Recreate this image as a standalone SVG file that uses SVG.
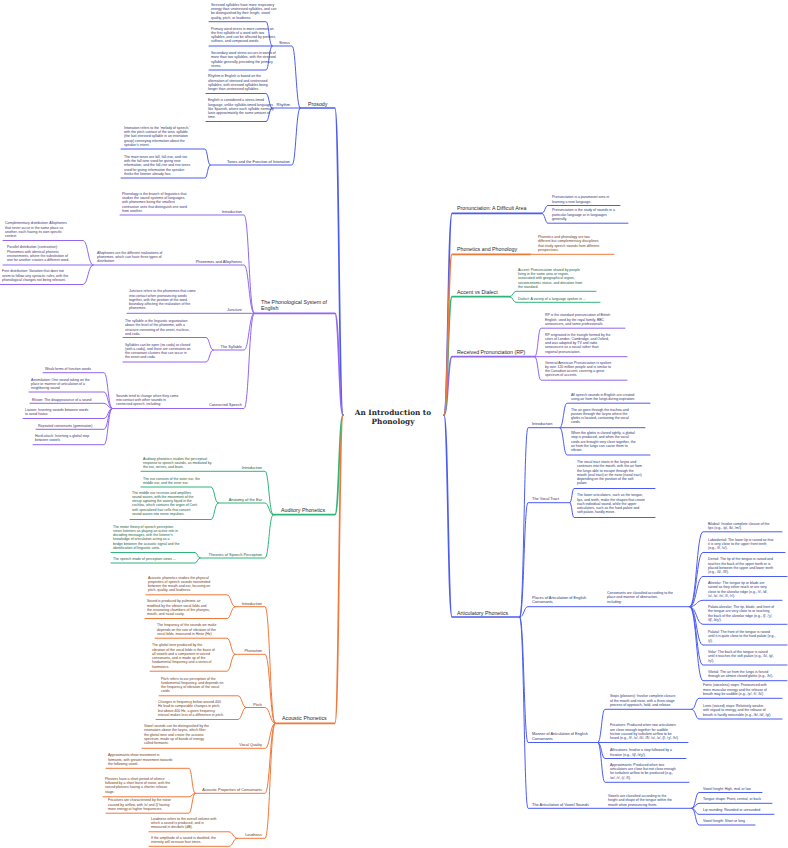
<svg xmlns="http://www.w3.org/2000/svg" width="788" height="848" viewBox="0 0 788 848">
<style>
text{font-family:"Liberation Sans","DejaVu Sans",Arial,sans-serif}
.t{font-size:3.5px}
.s{font-size:3.9px}
.m{font-size:5.3px;fill:#2a2a2a}
.title{font-family:"DejaVu Serif","Liberation Serif",serif;font-size:7.3px;font-weight:bold;fill:#2a2a2a}
.cb{fill:#2e3470}.cp{fill:#45306e}.cg{fill:#245a40}.co{fill:#6e3a20}
path{fill:none;stroke-linecap:round}
.B{stroke:#4d5cf0}.P{stroke:#9366f0}.G{stroke:#2fb57a}.O{stroke:#f0783a}
.w1{stroke-width:1.7}.w2{stroke-width:1}
</style>
<rect width="788" height="848" fill="#ffffff"/>
<g id="connectors">
<g class="B w1"><path d="M343,415C339,415 339,108 335,108H300"/><path d="M444,415C448,415 448,213.3 452,213.3H542"/><path d="M444,415C448,415 448,617 452,617H520"/></g>
<g class="P w1"><path d="M343,415C339,415 339,313.3 335,313.3H254"/><path d="M444,415C448,415 448,356.7 452,356.7H535"/></g>
<g class="G w1"><path d="M343,415C339,415 339,514.7 335,514.7H273"/><path d="M444,415C448,415 448,296.7 452,296.7H510"/></g>
<g class="O w1"><path d="M343,415C339,415 339,723.3 335,723.3H275"/><path d="M444,415C448,415 448,254.3 452,254.3H530"/></g>
<g class="B w2">
<path d="M300,108C296,108 296,46 292,46H272"/><path d="M300,108H272"/><path d="M300,108C296,108 296,165 292,165H210"/>
<path d="M272,46C269,46 269,21.7 266,21.7H209"/><path d="M272,46H209"/><path d="M272,46C269,46 269,70 266,70H209"/>
<path d="M272,108C269,108 269,93.5 266,93.5H206"/><path d="M272,108C269,108 269,121.5 266,121.5H206"/>
<path d="M210,165C207.5,165 207.5,149 205,149H121"/><path d="M210,165C207.5,165 207.5,178 205,178H121"/>
<path d="M542,213.3C545,213.3 545,205.5 548,205.5H620"/><path d="M542,213.3C545,213.3 545,223.2 548,223.2H628"/>
<path d="M520,617C524,617 524,427.7 528,427.7H560"/><path d="M520,617C524,617 524,502.7 528,502.7H570"/><path d="M520,617C524,617 524,606.7 528,606.7H690"/><path d="M520,617C524,617 524,742.5 528,742.5H598"/><path d="M520,617C524,617 524,808.3 528,808.3H692"/>
<path d="M560,427.7C563.5,427.7 563.5,403.2 567,403.2H650"/><path d="M560,427.7H645"/><path d="M560,427.7C563.5,427.7 563.5,455 567,455H650"/>
<path d="M570,502.7C572,502.7 572,488.5 574,488.5H655"/><path d="M570,502.7C572,502.7 572,517.5 574,517.5H655"/>
<path d="M690,606.7C696.5,606.7 696.5,531.8 703,531.8H782"/><path d="M690,606.7C696.5,606.7 696.5,552.5 703,552.5H785"/><path d="M690,606.7C696.5,606.7 696.5,576.5 703,576.5H787"/><path d="M690,606.7C696.5,606.7 696.5,600.3 703,600.3H782"/><path d="M690,606.7C696.5,606.7 696.5,624.3 703,624.3H787"/><path d="M690,606.7C696.5,606.7 696.5,645 703,645H787"/><path d="M690,606.7C696.5,606.7 696.5,665 703,665H787"/><path d="M690,606.7C696.5,606.7 696.5,680.7 703,680.7H787"/>
<path d="M598,742.5C601.5,742.5 601.5,709.3 605,709.3H692"/><path d="M598,742.5H688"/><path d="M598,742.5C601.5,742.5 601.5,758.5 605,758.5H686"/><path d="M598,742.5C601.5,742.5 601.5,782.3 605,782.3H689"/>
<path d="M692,709.3C695.5,709.3 695.5,698.3 699,698.3H782"/><path d="M692,709.3C695.5,709.3 695.5,719 699,719H782"/>
<path d="M692,808.3C695.5,808.3 695.5,792.5 699,792.5H762"/><path d="M692,808.3C695.5,808.3 695.5,803.3 699,803.3H772"/><path d="M692,808.3C695.5,808.3 695.5,814.3 699,814.3H774"/><path d="M692,808.3C695.5,808.3 695.5,825 699,825H755"/>
</g>
<g class="P w2">
<path d="M254,313.3C249,313.3 249,215 244,215H120"/><path d="M254,313.3C249,313.3 249,265 244,265H93"/><path d="M254,313.3H127"/><path d="M254,313.3C249,313.3 249,350 244,350H213"/><path d="M254,313.3C249,313.3 249,408.5 244,408.5H112"/>
<path d="M93,265C88,265 88,240.5 83,240.5H3"/><path d="M93,265H3"/><path d="M93,265C88,265 88,284.5 83,284.5H0"/>
<path d="M213,350C209.5,350 209.5,337.5 206,337.5H123"/><path d="M213,350C209.5,350 209.5,362 206,362H123"/>
<path d="M112,408.5C108,408.5 108,372.7 104,372.7H43"/><path d="M112,408.5C108,408.5 108,392 104,392H29"/><path d="M112,408.5C108,408.5 108,403.3 104,403.3H30"/><path d="M112,408.5C108,408.5 108,418.5 104,418.5H23"/><path d="M112,408.5C108,408.5 108,429.3 104,429.3H36"/><path d="M112,408.5C108,408.5 108,444.7 104,444.7H33"/>
<path d="M535,356.7C538,356.7 538,328.2 541,328.2H625"/><path d="M535,356.7H627"/><path d="M535,356.7C538,356.7 538,380.2 541,380.2H627"/>
</g>
<g class="G w2">
<path d="M273,514.7C269,514.7 269,471.3 265,471.3H141"/><path d="M273,514.7C269,514.7 269,503 265,503H218"/><path d="M273,514.7C269,514.7 269,558 265,558H200"/>
<path d="M218,503C214.5,503 214.5,487 211,487H141"/><path d="M218,503C214.5,503 214.5,519.5 211,519.5H130"/>
<path d="M200,558C197.5,558 197.5,552.5 195,552.5H111"/><path d="M200,558C197.5,558 197.5,563 195,563H111"/>
<path d="M510,296.7C513,296.7 513,291.3 516,291.3H596"/><path d="M510,296.7C513,296.7 513,302.3 516,302.3H600"/>
</g>
<g class="O w2">
<path d="M275,723.3C270,723.3 270,606.7 265,606.7H235"/><path d="M275,723.3C270,723.3 270,654.3 265,654.3H235"/><path d="M275,723.3C270,723.3 270,707.5 265,707.5H246"/><path d="M275,723.3C270,723.3 270,748.3 265,748.3H142"/><path d="M275,723.3C270,723.3 270,793.3 265,793.3H195"/><path d="M275,723.3C270,723.3 270,838.3 265,838.3H237"/>
<path d="M235,606.7C231,606.7 231,594.8 227,594.8H146"/><path d="M235,606.7C231,606.7 231,618.5 227,618.5H145"/>
<path d="M235,654.3C231,654.3 231,638.2 227,638.2H155"/><path d="M235,654.3C231,654.3 231,671.2 227,671.2H150"/>
<path d="M246,707.5C242,707.5 242,695.8 238,695.8H159"/><path d="M246,707.5C242,707.5 242,719.5 238,719.5H156"/>
<path d="M195,793.3C192,793.3 192,768.3 189,768.3H106"/><path d="M195,793.3C192,793.3 192,796.8 189,796.8H103"/><path d="M195,793.3C192,793.3 192,813.2 189,813.2H106"/>
<path d="M237,838.3C233,838.3 233,831.8 229,831.8H149"/><path d="M237,838.3C233,838.3 233,846.3 229,846.3H149"/>
<path d="M530,254.3H614"/>
</g>
</g>

<g id="root"><text class="title" x="393" y="414.8" text-anchor="middle">An Introduction to</text><text class="title" x="393" y="424.3" text-anchor="middle">Phonology</text></g>

<!-- Prosody -->
<g id="prosody"><text class="m" x="308" y="105.8">Prosody</text></g>
<g id="stress"><text class="s cb" x="290" y="44.3" text-anchor="end">Stress</text></g>
<g id="stress-1"><text class="t cb" x="211" y="5.6"><tspan x="211">Stressed syllables have more respiratory</tspan><tspan x="211" dy="4.3">energy than unstressed syllables, and can</tspan><tspan x="211" dy="4.3">be distinguished by their length, vowel</tspan><tspan x="211" dy="4.3">quality, pitch, or loudness.</tspan></text></g>
<g id="stress-2"><text class="t cb" x="211" y="29.5"><tspan x="211">Primary word stress is more common on</tspan><tspan x="211" dy="4.3">the first syllable of a word with two</tspan><tspan x="211" dy="4.3">syllables, and can be affected by prefixes,</tspan><tspan x="211" dy="4.3">suffixes, and compound words.</tspan></text></g>
<g id="stress-3"><text class="t cb" x="211" y="53.9"><tspan x="211">Secondary word stress occurs in words of</tspan><tspan x="211" dy="4.3">more than two syllables, with the stressed</tspan><tspan x="211" dy="4.3">syllable generally preceding the primary</tspan><tspan x="211" dy="4.3">stress.</tspan></text></g>
<g id="rhythm"><text class="s cb" x="290" y="106.1" text-anchor="end">Rhythm</text></g>
<g id="rhythm-1"><text class="t cb" x="208" y="77.2"><tspan x="208">Rhythm in English is based on the</tspan><tspan x="208" dy="4.3">alternation of stressed and unstressed</tspan><tspan x="208" dy="4.3">syllables, with stressed syllables being</tspan><tspan x="208" dy="4.3">longer than unstressed syllables.</tspan></text></g>
<g id="rhythm-2"><text class="t cb" x="208" y="101.2"><tspan x="208">English is considered a stress-timed</tspan><tspan x="208" dy="4.3">language, unlike syllable-timed languages</tspan><tspan x="208" dy="4.3">like Spanish, where each syllable normally</tspan><tspan x="208" dy="4.3">lasts approximately the same amount of</tspan><tspan x="208" dy="4.3">time.</tspan></text></g>
<g id="tones"><text class="s cb" x="290" y="163.3" text-anchor="end">Tones and the Function of Intonation</text></g>
<g id="tones-1"><text class="t cb" x="124" y="128.7"><tspan x="124">Intonation refers to the 'melody of speech,'</tspan><tspan x="124" dy="4.3">with the pitch contour of the tonic syllable</tspan><tspan x="124" dy="4.3">(the last stressed syllable in an intonation</tspan><tspan x="124" dy="4.3">group) conveying information about the</tspan><tspan x="124" dy="4.3">speaker's intent.</tspan></text></g>
<g id="tones-2"><text class="t cb" x="124" y="157.7"><tspan x="124">The main tones are fall, fall-rise, and rise</tspan><tspan x="124" dy="4.3">with the fall tone used for giving new</tspan><tspan x="124" dy="4.3">information, and the fall-rise and rise tones</tspan><tspan x="124" dy="4.3">used for giving information the speaker</tspan><tspan x="124" dy="4.3">thinks the listener already has.</tspan></text></g>

<!-- Phonological system -->
<g id="phonological-system"><text class="m" x="261" y="304.2"><tspan x="261">The Phonological System of</tspan><tspan x="261" dy="5.6">English</tspan></text></g>
<g id="ps-intro"><text class="s cp" x="242" y="213.1" text-anchor="end">Introduction</text></g>
<g id="ps-intro-1"><text class="t cp" x="122" y="194.7"><tspan x="122">Phonology is the branch of linguistics that</tspan><tspan x="122" dy="4.3">studies the sound systems of languages,</tspan><tspan x="122" dy="4.3">with phonemes being the smallest</tspan><tspan x="122" dy="4.3">contrastive units that distinguish one word</tspan><tspan x="122" dy="4.3">from another.</tspan></text></g>
<g id="phonemes"><text class="s cp" x="242" y="263.1" text-anchor="end">Phonemes and Allophones</text></g>
<g id="allophones"><text class="t cp" x="97" y="253.5"><tspan x="97">Allophones are the different realizations of</tspan><tspan x="97" dy="4.3">phonemes, which can have three types of</tspan><tspan x="97" dy="4.3">distribution:</tspan></text></g>
<g id="complementary"><text class="t cp" x="5" y="224.2"><tspan x="5">Complementary distribution: Allophones</tspan><tspan x="5" dy="4.3">that never occur in the same place as</tspan><tspan x="5" dy="4.3">another, each having its own specific</tspan><tspan x="5" dy="4.3">context</tspan></text></g>
<g id="parallel"><text class="t cp" x="7" y="248.2"><tspan x="7">Parallel distribution (contrastive):</tspan><tspan x="7" dy="4.3">Phonemes with identical phonetic</tspan><tspan x="7" dy="4.3">environments, where the substitution of</tspan><tspan x="7" dy="4.3">one for another creates a different word.</tspan></text></g>
<g id="free"><text class="t cp" x="2" y="272.2"><tspan x="2">Free distribution: Variation that does not</tspan><tspan x="2" dy="4.3">seem to follow any syntactic rules, with the</tspan><tspan x="2" dy="4.3">phonological changes not being relevant.</tspan></text></g>
<g id="juncture"><text class="s cp" x="242" y="311.2" text-anchor="end">Juncture</text></g>
<g id="juncture-1"><text class="t cp" x="129" y="292.2"><tspan x="129">Juncture refers to the phonemes that come</tspan><tspan x="129" dy="4.3">into contact when pronouncing words</tspan><tspan x="129" dy="4.3">together, with the position of the word</tspan><tspan x="129" dy="4.3">boundary affecting the realization of the</tspan><tspan x="129" dy="4.3">phonemes.</tspan></text></g>
<g id="syllable"><text class="s cp" x="242" y="347.9" text-anchor="end">The Syllable</text></g>
<g id="syllable-1"><text class="t cp" x="125" y="321.9"><tspan x="125">The syllable is the linguistic organization</tspan><tspan x="125" dy="4.3">above the level of the phoneme, with a</tspan><tspan x="125" dy="4.3">structure consisting of the onset, nucleus,</tspan><tspan x="125" dy="4.3">and coda.</tspan></text></g>
<g id="syllable-2"><text class="t cp" x="125" y="345.5"><tspan x="125">Syllables can be open (no coda) or closed</tspan><tspan x="125" dy="4.3">(with a coda), and there are constraints on</tspan><tspan x="125" dy="4.3">the consonant clusters that can occur in</tspan><tspan x="125" dy="4.3">the onset and coda.</tspan></text></g>
<g id="connected"><text class="s cp" x="242" y="406.3" text-anchor="end">Connected Speech</text></g>
<g id="connected-1"><text class="t cp" x="116" y="396.5"><tspan x="116">Sounds tend to change when they come</tspan><tspan x="116" dy="4.3">into contact with other sounds in</tspan><tspan x="116" dy="4.3">connected speech, including:</tspan></text></g>
<g id="weak"><text class="t cp" x="45" y="369.9">Weak forms of function words</text></g>
<g id="assimilation"><text class="t cp" x="31" y="380.5"><tspan x="31">Assimilation: One sound taking on the</tspan><tspan x="31" dy="4.3">place or manner of articulation of a</tspan><tspan x="31" dy="4.3">neighboring sound</tspan></text></g>
<g id="elision"><text class="t cp" x="32" y="400.5">Elision: The disappearance of a sound</text></g>
<g id="liaison"><text class="t cp" x="25" y="410.9"><tspan x="25">Liaison: Inserting sounds between words</tspan><tspan x="25" dy="4.3">to avoid hiatus</tspan></text></g>
<g id="gemination"><text class="t cp" x="38" y="426.5">Repeated consonants (gemination)</text></g>
<g id="hard-attack"><text class="t cp" x="35" y="436.9"><tspan x="35">Hard attack: Inserting a glottal stop</tspan><tspan x="35" dy="4.3">between vowels</tspan></text></g>

<!-- Auditory -->
<g id="auditory"><text class="m" x="281" y="511.6">Auditory Phonetics</text></g>
<g id="au-intro"><text class="s cg" x="262" y="468.6" text-anchor="end">Introduction</text></g>
<g id="au-intro-1"><text class="t cg" x="143" y="459.5"><tspan x="143">Auditory phonetics studies the perceptual</tspan><tspan x="143" dy="4.3">response to speech sounds, as mediated by</tspan><tspan x="143" dy="4.3">the ear, nerves, and brain.</tspan></text></g>
<g id="anatomy"><text class="s cg" x="262" y="501.1" text-anchor="end">Anatomy of the Ear</text></g>
<g id="anatomy-1"><text class="t cg" x="143" y="479.5"><tspan x="143">The ear consists of the outer ear, the</tspan><tspan x="143" dy="4.3">middle ear, and the inner ear.</tspan></text></g>
<g id="anatomy-2"><text class="t cg" x="132" y="493.5"><tspan x="132">The middle ear receives and amplifies</tspan><tspan x="132" dy="4.3">sound waves, with the movement of the</tspan><tspan x="132" dy="4.3">stirrup agitating the watery liquid in the</tspan><tspan x="132" dy="4.3">cochlea, which contains the organ of Corti</tspan><tspan x="132" dy="4.3">with specialized hair cells that convert</tspan><tspan x="132" dy="4.3">sound waves into nerve impulses.</tspan></text></g>
<g id="theories"><text class="s cg" x="262" y="556.1" text-anchor="end">Theories of Speech Perception</text></g>
<g id="theories-1"><text class="t cg" x="113" y="527.5"><tspan x="113">The motor theory of speech perception</tspan><tspan x="113" dy="4.3">views listeners as playing an active role in</tspan><tspan x="113" dy="4.3">decoding messages, with the listener's</tspan><tspan x="113" dy="4.3">knowledge of articulation acting as a</tspan><tspan x="113" dy="4.3">bridge between the acoustic signal and the</tspan><tspan x="113" dy="4.3">identification of linguistic units.</tspan></text></g>
<g id="theories-2"><text class="t cg" x="113" y="560.2">The speech mode of perception views ...</text></g>

<!-- Acoustic -->
<g id="acoustic"><text class="m" x="282" y="720.2">Acoustic Phonetics</text></g>
<g id="ac-intro"><text class="s co" x="262" y="604.7" text-anchor="end">Introduction</text></g>
<g id="ac-intro-1"><text class="t co" x="148" y="578.5"><tspan x="148">Acoustic phonetics studies the physical</tspan><tspan x="148" dy="4.3">properties of speech sounds transmitted</tspan><tspan x="148" dy="4.3">between the mouth and ear, focusing on</tspan><tspan x="148" dy="4.3">pitch, quality, and loudness.</tspan></text></g>
<g id="ac-intro-2"><text class="t co" x="147" y="602.2"><tspan x="147">Sound is produced by pulmonic air</tspan><tspan x="147" dy="4.3">modified by the vibrant vocal folds and</tspan><tspan x="147" dy="4.3">the resonating chambers of the pharynx,</tspan><tspan x="147" dy="4.3">mouth, and nasal cavity.</tspan></text></g>
<g id="phonation"><text class="s co" x="262" y="652.4" text-anchor="end">Phonation</text></g>
<g id="phonation-1"><text class="t co" x="157" y="626.2"><tspan x="157">The frequency of the sounds we make</tspan><tspan x="157" dy="4.3">depends on the rate of vibration of the</tspan><tspan x="157" dy="4.3">vocal folds, measured in Hertz (Hz)</tspan></text></g>
<g id="phonation-2"><text class="t co" x="152" y="646.2"><tspan x="152">The glottal tone produced by the</tspan><tspan x="152" dy="4.3">vibration of the vocal folds is the basis of</tspan><tspan x="152" dy="4.3">all vowels and a component in voiced</tspan><tspan x="152" dy="4.3">consonants, and is made up of the</tspan><tspan x="152" dy="4.3">fundamental frequency and a series of</tspan><tspan x="152" dy="4.3">harmonics.</tspan></text></g>
<g id="pitch"><text class="s co" x="262" y="705.5" text-anchor="end">Pitch</text></g>
<g id="pitch-1"><text class="t co" x="161" y="679.5"><tspan x="161">Pitch refers to our perception of the</tspan><tspan x="161" dy="4.3">fundamental frequency, and depends on</tspan><tspan x="161" dy="4.3">the frequency of vibration of the vocal</tspan><tspan x="161" dy="4.3">cords.</tspan></text></g>
<g id="pitch-2"><text class="t co" x="158" y="702.9"><tspan x="158">Changes in frequency below around 400</tspan><tspan x="158" dy="4.3">Hz lead to comparable changes in pitch,</tspan><tspan x="158" dy="4.3">but above 400 Hz, a given frequency</tspan><tspan x="158" dy="4.3">interval makes less of a difference in pitch.</tspan></text></g>
<g id="vocal-quality"><text class="s co" x="262" y="746.3" text-anchor="end">Vocal Quality</text></g>
<g id="vocal-quality-1"><text class="t co" x="144" y="726.9"><tspan x="144">Vowel sounds can be distinguished by the</tspan><tspan x="144" dy="4.3">resonators above the larynx, which filter</tspan><tspan x="144" dy="4.3">the glottal tone and create the acoustic</tspan><tspan x="144" dy="4.3">spectrum, made up of bands of energy</tspan><tspan x="144" dy="4.3">called formants.</tspan></text></g>
<g id="consonant-props"><text class="s co" x="262" y="791.3" text-anchor="end">Acoustic Properties of Consonants</text></g>
<g id="approximants-ac"><text class="t co" x="108" y="756.2"><tspan x="108">Approximants show movement in</tspan><tspan x="108" dy="4.3">formants, with greater movement towards</tspan><tspan x="108" dy="4.3">the following vowel.</tspan></text></g>
<g id="plosives-ac"><text class="t co" x="105" y="779.7"><tspan x="105">Plosives have a short period of silence</tspan><tspan x="105" dy="4.3">followed by a short burst of noise, with the</tspan><tspan x="105" dy="4.3">voiced plosives having a shorter release</tspan><tspan x="105" dy="4.3">stage.</tspan></text></g>
<g id="fricatives-ac"><text class="t co" x="108" y="801.2"><tspan x="108">Fricatives are characterized by the noise</tspan><tspan x="108" dy="4.3">caused by airflow, with /s/ and /ʃ/ having</tspan><tspan x="108" dy="4.3">more energy at higher frequencies.</tspan></text></g>
<g id="loudness"><text class="s co" x="262" y="836.3" text-anchor="end">Loudness</text></g>
<g id="loudness-1"><text class="t co" x="151" y="819.5"><tspan x="151">Loudness refers to the overall volume with</tspan><tspan x="151" dy="4.3">which a sound is produced, and is</tspan><tspan x="151" dy="4.3">measured in decibels (dB).</tspan></text></g>
<g id="loudness-2"><text class="t co" x="151" y="838.5"><tspan x="151">If the amplitude of a sound is doubled, the</tspan><tspan x="151" dy="4.3">intensity will increase four times.</tspan></text></g>

<!-- Right side -->
<g id="pronunciation"><text class="m" x="457" y="210.2">Pronunciation: A Difficult Area</text></g>
<g id="pron-1"><text class="t cb" x="552" y="198.2"><tspan x="552">Pronunciation is a paramount area in</tspan><tspan x="552" dy="4.3">learning a new language.</tspan></text></g>
<g id="pron-2"><text class="t cb" x="552" y="211.2"><tspan x="552">Pronunciation is the study of sounds in a</tspan><tspan x="552" dy="4.3">particular language or in languages</tspan><tspan x="552" dy="4.3">generally.</tspan></text></g>
<g id="phon-phon"><text class="m" x="457" y="251.2">Phonetics and Phonology</text></g>
<g id="phon-phon-1"><text class="t co" x="538" y="237.9"><tspan x="538">Phonetics and phonology are two</tspan><tspan x="538" dy="4.3">different but complementary disciplines</tspan><tspan x="538" dy="4.3">that study speech sounds from different</tspan><tspan x="538" dy="4.3">perspectives.</tspan></text></g>
<g id="accent-dialect"><text class="m" x="457" y="293.6">Accent vs Dialect</text></g>
<g id="accent"><text class="t cg" x="518" y="270.7"><tspan x="518">Accent: Pronunciation shared by people</tspan><tspan x="518" dy="4.3">living in the same area or region,</tspan><tspan x="518" dy="4.3">associated with geographical region,</tspan><tspan x="518" dy="4.3">socioeconomic status, and deviation from</tspan><tspan x="518" dy="4.3">the standard.</tspan></text></g>
<g id="dialect"><text class="t cg" x="518" y="299.5">Dialect: A variety of a language spoken in ...</text></g>
<g id="rp"><text class="m" x="457" y="353.6">Received Pronunciation (RP)</text></g>
<g id="rp-1"><text class="t cp" x="545" y="316.2"><tspan x="545">RP is the standard pronunciation of British</tspan><tspan x="545" dy="4.3">English, used by the royal family, BBC</tspan><tspan x="545" dy="4.3">announcers, and some professionals.</tspan></text></g>
<g id="rp-2"><text class="t cp" x="545" y="335.5"><tspan x="545">RP originated in the triangle formed by the</tspan><tspan x="545" dy="4.3">cities of London, Cambridge, and Oxford,</tspan><tspan x="545" dy="4.3">and was adopted by TV and radio</tspan><tspan x="545" dy="4.3">announcers as a social rather than</tspan><tspan x="545" dy="4.3">regional pronunciation.</tspan></text></g>
<g id="rp-3"><text class="t cp" x="545" y="363.5"><tspan x="545">General American Pronunciation is spoken</tspan><tspan x="545" dy="4.3">by over 120 million people and is similar to</tspan><tspan x="545" dy="4.3">the Canadian accent, covering a great</tspan><tspan x="545" dy="4.3">spectrum of accents.</tspan></text></g>
<g id="articulatory"><text class="m" x="457" y="614.8">Articulatory Phonetics</text></g>
<g id="ar-intro"><text class="s cb" x="532" y="424.7">Introduction</text></g>
<g id="ar-intro-1"><text class="t cb" x="571" y="395.5"><tspan x="571">All speech sounds in English are created</tspan><tspan x="571" dy="4.3">using air from the lungs during expiration.</tspan></text></g>
<g id="ar-intro-2"><text class="t cb" x="571" y="410.5"><tspan x="571">The air goes through the trachea and</tspan><tspan x="571" dy="4.3">passes through the larynx where the</tspan><tspan x="571" dy="4.3">glottis is located, containing the vocal</tspan><tspan x="571" dy="4.3">cords.</tspan></text></g>
<g id="ar-intro-3"><text class="t cb" x="571" y="433.9"><tspan x="571">When the glottis is closed tightly, a glottal</tspan><tspan x="571" dy="4.3">stop is produced, and when the vocal</tspan><tspan x="571" dy="4.3">cords are brought very close together, the</tspan><tspan x="571" dy="4.3">air from the lungs can cause them to</tspan><tspan x="571" dy="4.3">vibrate.</tspan></text></g>
<g id="vocal-tract"><text class="s cb" x="532" y="500.4">The Vocal Tract</text></g>
<g id="vocal-tract-1"><text class="t cb" x="577" y="462.9"><tspan x="577">The vocal tract starts in the larynx and</tspan><tspan x="577" dy="4.3">continues into the mouth, with the air from</tspan><tspan x="577" dy="4.3">the lungs able to escape through the</tspan><tspan x="577" dy="4.3">mouth (oral tract) or the nose (nasal tract)</tspan><tspan x="577" dy="4.3">depending on the position of the soft</tspan><tspan x="577" dy="4.3">palate.</tspan></text></g>
<g id="vocal-tract-2"><text class="t cb" x="577" y="496.2"><tspan x="577">The lower articulators, such as the tongue,</tspan><tspan x="577" dy="4.3">lips, and teeth, make the shapes that create</tspan><tspan x="577" dy="4.3">each individual sound, while the upper</tspan><tspan x="577" dy="4.3">articulators, such as the hard palate and</tspan><tspan x="577" dy="4.3">soft palate, hardly move.</tspan></text></g>
<g id="places"><text class="s cb" x="532" y="598.7"><tspan x="532">Places of Articulation of English</tspan><tspan x="532" dy="4.4">Consonants</tspan></text></g>
<g id="places-1"><text class="t cb" x="607" y="593.9"><tspan x="607">Consonants are classified according to the</tspan><tspan x="607" dy="4.3">place and manner of obstruction,</tspan><tspan x="607" dy="4.3">including:</tspan></text></g>
<g id="bilabial"><text class="t cb" x="708" y="524.5"><tspan x="708">Bilabial: Involve complete closure of the</tspan><tspan x="708" dy="4.3">lips (e.g., /p/, /b/, /m/).</tspan></text></g>
<g id="labiodental"><text class="t cb" x="708" y="540.5"><tspan x="708">Labiodental: The lower lip is raised so that</tspan><tspan x="708" dy="4.3">it is very close to the upper front teeth</tspan><tspan x="708" dy="4.3">(e.g., /f/, /v/).</tspan></text></g>
<g id="dental"><text class="t cb" x="708" y="560.2"><tspan x="708">Dental: The tip of the tongue is raised and</tspan><tspan x="708" dy="4.3">touches the back of the upper teeth or is</tspan><tspan x="708" dy="4.3">placed between the upper and lower teeth</tspan><tspan x="708" dy="4.3">(e.g., /θ/, /ð/).</tspan></text></g>
<g id="alveolar"><text class="t cb" x="708" y="583.9"><tspan x="708">Alveolar: The tongue tip or blade are</tspan><tspan x="708" dy="4.3">raised so they either touch or are very</tspan><tspan x="708" dy="4.3">close to the alveolar ridge (e.g., /t/, /d/,</tspan><tspan x="708" dy="4.3">/s/, /z/, /n/, /l/, /r/).</tspan></text></g>
<g id="palato-alveolar"><text class="t cb" x="708" y="607.9"><tspan x="708">Palato-alveolar: The tip, blade, and front of</tspan><tspan x="708" dy="4.3">the tongue are very close to or touching</tspan><tspan x="708" dy="4.3">the back of the alveolar ridge (e.g., /ʃ/, /ʒ/,</tspan><tspan x="708" dy="4.3">/tʃ/, /dʒ/).</tspan></text></g>
<g id="palatal"><text class="t cb" x="708" y="632.9"><tspan x="708">Palatal: The front of the tongue is raised</tspan><tspan x="708" dy="4.3">until it is quite close to the hard palate (e.g.,</tspan><tspan x="708" dy="4.3">/j/).</tspan></text></g>
<g id="velar"><text class="t cb" x="708" y="652.9"><tspan x="708">Velar: The back of the tongue is raised</tspan><tspan x="708" dy="4.3">until it touches the soft palate (e.g., /k/, /g/,</tspan><tspan x="708" dy="4.3">/ŋ/).</tspan></text></g>
<g id="glottal"><text class="t cb" x="708" y="672.9"><tspan x="708">Glottal: The air from the lungs is forced</tspan><tspan x="708" dy="4.3">through an almost closed glottis (e.g., /h/).</tspan></text></g>
<g id="manner"><text class="s cb" x="532" y="735.4"><tspan x="532">Manner of Articulation of English</tspan><tspan x="532" dy="4.4">Consonants</tspan></text></g>
<g id="stops"><text class="t cb" x="610" y="697.2"><tspan x="610">Stops (plosives): Involve complete closure</tspan><tspan x="610" dy="4.3">of the mouth and nose, with a three-stage</tspan><tspan x="610" dy="4.3">process of approach, hold, and release</tspan></text></g>
<g id="fortis"><text class="t cb" x="703" y="686.2"><tspan x="703">Fortis (voiceless) stops: Pronounced with</tspan><tspan x="703" dy="4.3">more muscular energy and the release of</tspan><tspan x="703" dy="4.3">breath may be audible (e.g., /p/, /t/, /k/)</tspan></text></g>
<g id="lenis"><text class="t cb" x="703" y="706.9"><tspan x="703">Lenis (voiced) stops: Relatively weaker</tspan><tspan x="703" dy="4.3">with regard to energy, and the release of</tspan><tspan x="703" dy="4.3">breath is hardly noticeable (e.g., /b/, /d/, /g/)</tspan></text></g>
<g id="fricatives"><text class="t cb" x="610" y="726.2"><tspan x="610">Fricatives: Produced when two articulators</tspan><tspan x="610" dy="4.3">are close enough together for audible</tspan><tspan x="610" dy="4.3">friction caused by turbulent airflow to be</tspan><tspan x="610" dy="4.3">heard (e.g., /f/, /v/, /θ/, /ð/, /s/, /z/, /ʃ/, /ʒ/, /h/).</tspan></text></g>
<g id="affricatives"><text class="t cb" x="610" y="751.2"><tspan x="610">Affricatives: Involve a stop followed by a</tspan><tspan x="610" dy="4.3">fricative (e.g., /tʃ/, /dʒ/).</tspan></text></g>
<g id="approximants"><text class="t cb" x="610" y="765.7"><tspan x="610">Approximants: Produced when two</tspan><tspan x="610" dy="4.3">articulators are close but not close enough</tspan><tspan x="610" dy="4.3">for turbulent airflow to be produced (e.g.,</tspan><tspan x="610" dy="4.3">/w/, /r/, /j/, /l/).</tspan></text></g>
<g id="vowels"><text class="s cb" x="532" y="806.4">The Articulation of Vowel Sounds</text></g>
<g id="vowels-1"><text class="t cb" x="608" y="796.9"><tspan x="608">Vowels are classified according to the</tspan><tspan x="608" dy="4.3">height and shape of the tongue within the</tspan><tspan x="608" dy="4.3">mouth when pronouncing them.</tspan></text></g>
<g id="vowel-height"><text class="t cb" x="703" y="789.5">Vowel height: High, mid, or low</text></g>
<g id="tongue-shape"><text class="t cb" x="703" y="800.2">Tongue shape: Front, central, or back</text></g>
<g id="lip-rounding"><text class="t cb" x="703" y="811.2">Lip rounding: Rounded or unrounded</text></g>
<g id="vowel-length"><text class="t cb" x="703" y="821.9">Vowel length: Short or long</text></g>
</svg>
